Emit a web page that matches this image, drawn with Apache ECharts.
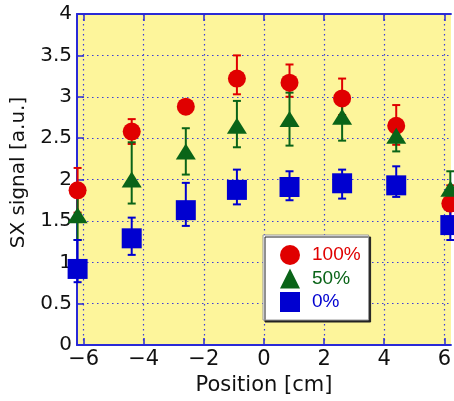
<!DOCTYPE html>
<html><head><meta charset="utf-8">
<script src="https://cdn.jsdelivr.net/npm/echarts@6/dist/echarts.min.js"></script>
<style>html,body{margin:0;padding:0;background:#fff}#c{width:454px;height:401px}</style>
</head><body><div id="c"></div>
<script>
// Data
const positions = [-6.2, -4.4, -2.6, -0.9, 0.85, 2.6, 4.4, 6.2];
const xTicks = [-6, -4, -2, 0, 2, 4, 6];
const seriesNames = ['100%', '50%', '0%'];

const y100  = [1.87, 2.58, 2.88, 3.22, 3.17, 2.98, 2.65, 1.71];
const hi100 = [2.14, 2.73, 2.96, 3.50, 3.39, 3.22, 2.90, 1.93];
const lo100 = [1.60, 2.43, 2.80, 3.03, 3.00, 2.78, 2.42, 1.49];

const y50   = [1.57, 2.00, 2.34, 2.65, 2.73, 2.76, 2.53, 1.89];
const hi50  = [1.87, 2.45, 2.62, 2.95, 3.05, 3.05, 2.72, 2.10];
const lo50  = [1.27, 1.71, 2.06, 2.39, 2.41, 2.47, 2.34, 1.70];

const y0    = [0.92, 1.29, 1.63, 1.875, 1.91, 1.955, 1.93, 1.45];
const hi0   = [1.27, 1.54, 1.96, 2.12, 2.10, 2.12, 2.16, 1.62];
const lo0   = [0.76, 1.09, 1.44, 1.70, 1.75, 1.77, 1.79, 1.27];

const RED = '#e00000', GREEN = '#0a6418', BLUE = '#0000d0';
const AXIS = '#2a2ad6';

function pts(ys){ return positions.map((x,i)=>[x, ys[i]]); }
function errs(lo, hi){ return positions.map((x,i)=>[x, lo[i], hi[i]]); }
function errRender(color){
  return function(params, api){
    const x = api.value(0), lo = api.value(1), hi = api.value(2);
    const a = api.coord([x, lo]), b = api.coord([x, hi]);
    const cw = 4;
    const st = {stroke: color, lineWidth: 2};
    return {type:'group', children:[
      {type:'line', shape:{x1:a[0], y1:a[1], x2:b[0], y2:b[1]}, style:st},
      {type:'line', shape:{x1:a[0]-cw, y1:a[1], x2:a[0]+cw, y2:a[1]}, style:st},
      {type:'line', shape:{x1:b[0]-cw, y1:b[1], x2:b[0]+cw, y2:b[1]}, style:st}
    ]};
  };
}
const fmtX = v => v < 0 ? '\u2212' + (-v) : String(v);

const chart = echarts.init(document.getElementById('c'), null, {renderer:'canvas'});
chart.setOption({
  animation: false,
  backgroundColor: '#fff',
  grid: {left: 77, top: 14, width: 379.5, height: 337, show: true,
         backgroundColor: '#fdf59b', borderWidth: 0},
  xAxis: [{
    type: 'value', min: -6.22, max: 6.22, position: 'bottom',
    name: 'Position [cm]', nameLocation: 'middle', nameGap: 22,
    nameTextStyle: {fontFamily: 'DejaVu Sans', fontSize: 21, color: '#111'},
    axisLine: {show: true, onZero: false, lineStyle: {color: AXIS, width: 2}},
    axisTick: {show: true, inside: true, length: 7, customValues: xTicks, lineStyle: {color: AXIS, width: 1.5}},
    axisLabel: {customValues: xTicks, formatter: fmtX, fontFamily: 'DejaVu Sans', fontSize: 21, color: '#111', margin: 4},
    splitLine: {show: true, lineStyle: {color: '#3c3cd8', width: 1.2, type: [1.5, 3.5]}}
  }, {
    type: 'value', min: -6.22, max: 6.22, position: 'top',
    axisLine: {show: true, onZero: false, lineStyle: {color: AXIS, width: 2}},
    axisTick: {show: true, inside: true, length: 7, customValues: xTicks, lineStyle: {color: AXIS, width: 1.5}},
    axisLabel: {show: false}, splitLine: {show: false}
  }],
  yAxis: [{
    type: 'value', min: 0, max: 4, interval: 0.5,
    name: 'SX signal [a.u.]', nameLocation: 'middle', nameGap: 42,
    nameTextStyle: {fontFamily: 'DejaVu Sans', fontSize: 20, color: '#111', padding: [0, 0, 0, 14]},
    axisLine: {show: true, onZero: false, lineStyle: {color: AXIS, width: 2}},
    axisTick: {show: true, inside: true, length: 7, lineStyle: {color: AXIS, width: 1.5}},
    axisLabel: {fontFamily: 'DejaVu Sans', fontSize: 20, color: '#111', margin: 5},
    splitLine: {show: true, lineStyle: {color: '#3c3cd8', width: 1.2, type: [1.5, 3.5]}}
  }],
  legend: {
    orient: 'vertical', left: 263, top: 235,
    padding: [10, 8, 8, 17], itemGap: 3.5, itemWidth: 20, itemHeight: 20,
    backgroundColor: '#fff', borderColor: '#999', borderWidth: 1,
    shadowColor: '#222', shadowOffsetX: 2, shadowOffsetY: 2, shadowBlur: 0,
    selectedMode: false,
    textStyle: {fontFamily: 'Liberation Sans', fontSize: 19, padding: [0, 0, 0, 7]},
    data: [
      {name: seriesNames[0], icon: 'circle', textStyle: {color: RED}},
      {name: seriesNames[1], icon: 'triangle', textStyle: {color: GREEN}},
      {name: seriesNames[2], icon: 'rect', textStyle: {color: BLUE}}
    ]
  },
  series: [
    {type: 'custom', name: 'e100', z: 2, renderItem: errRender(RED), data: errs(lo100, hi100), clip: false},
    {type: 'custom', name: 'e50', z: 2, renderItem: errRender(GREEN), data: errs(lo50, hi50), clip: false},
    {type: 'custom', name: 'e0', z: 2, renderItem: errRender(BLUE), data: errs(lo0, hi0), clip: false},
    {type: 'scatter', name: seriesNames[0], z: 3, symbol: 'circle', symbolSize: 18,
     itemStyle: {color: RED, opacity: 1}, data: pts(y100)},
    {type: 'scatter', name: seriesNames[1], z: 4, symbol: 'triangle', symbolSize: [20, 16],
     itemStyle: {color: GREEN, opacity: 1}, data: pts(y50)},
    {type: 'scatter', name: seriesNames[2], z: 5, symbol: 'rect', symbolSize: 20,
     itemStyle: {color: BLUE, opacity: 1}, data: pts(y0)}
  ]
});
</script></body></html>
